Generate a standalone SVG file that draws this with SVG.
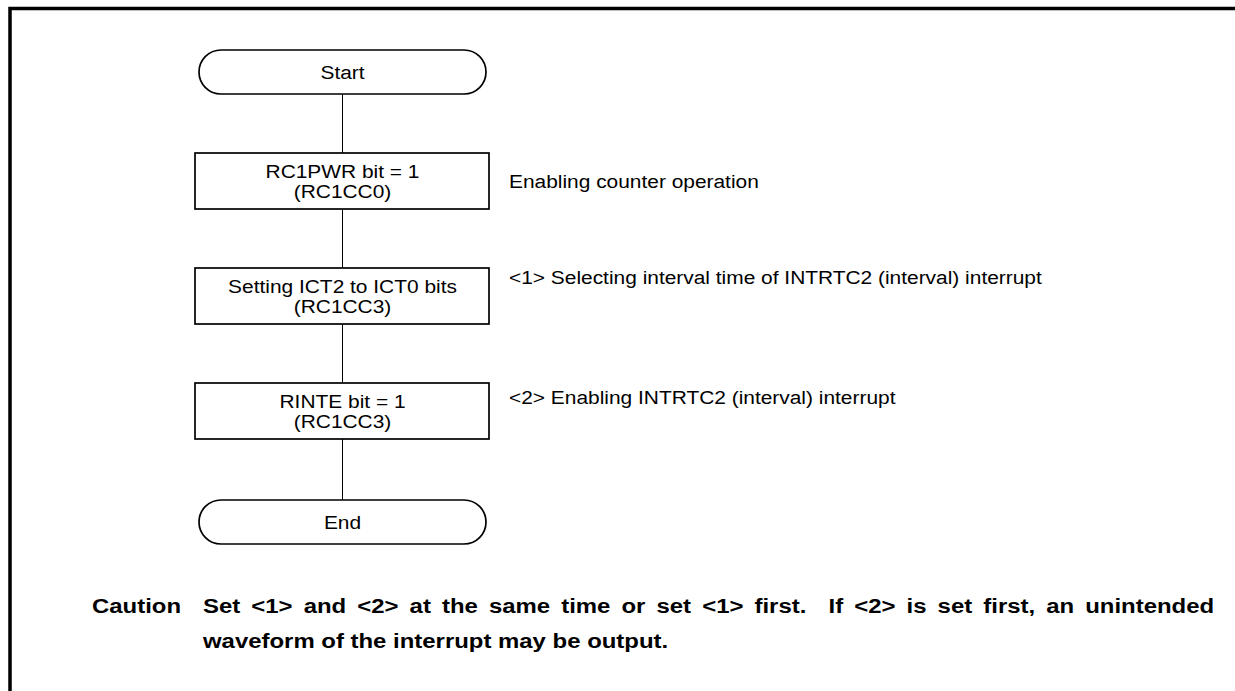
<svg xmlns="http://www.w3.org/2000/svg" width="1235" height="691" viewBox="0 0 1235 691">
<style>
.n{fill:#fff;stroke:#000;stroke-width:1.7}
.t{font-family:"Liberation Sans",Arial,sans-serif;font-size:17.8px;fill:#000}
.c{text-anchor:middle}
.b{font-family:"Liberation Sans",Arial,sans-serif;font-size:21px;font-weight:bold;fill:#000}
.w{stroke:#000;stroke-width:1;fill:none}
</style>
<rect width="1235" height="691" fill="#fff"/>
<g id="frame"><path d="M10 691 V8.5 H1235" fill="none" stroke="#000" stroke-width="3.5"/></g>
<g id="connectors">
<line class="w" x1="342.5" y1="94" x2="342.5" y2="500"/>
</g>
<g id="start"><rect class="n" x="199" y="50" width="287" height="44" rx="22"/><text class="t c" transform="translate(342.5,79) scale(1.175,1)">Start</text></g>
<g id="rc1pwr"><rect class="n" x="195" y="153" width="294" height="56"/><text class="t c" transform="translate(342.5,178) scale(1.175,1)">RC1PWR bit = 1</text><text class="t c" transform="translate(342.5,198) scale(1.175,1)">(RC1CC0)</text></g>
<g id="ict"><rect class="n" x="195" y="268" width="294" height="56"/><text class="t c" transform="translate(342.5,293) scale(1.175,1)">Setting ICT2 to ICT0 bits</text><text class="t c" transform="translate(342.5,313) scale(1.175,1)">(RC1CC3)</text></g>
<g id="rinte"><rect class="n" x="195" y="383" width="294" height="56"/><text class="t c" transform="translate(342.5,408) scale(1.175,1)">RINTE bit = 1</text><text class="t c" transform="translate(342.5,428) scale(1.175,1)">(RC1CC3)</text></g>
<g id="end"><rect class="n" x="199" y="500" width="287" height="44" rx="22"/><text class="t c" transform="translate(342.5,529) scale(1.175,1)">End</text></g>
<g id="labels">
<text class="t" transform="translate(509,188) scale(1.175,1)">Enabling counter operation</text>
<text class="t" transform="translate(509,284) scale(1.175,1)">&lt;1&gt; Selecting interval time of INTRTC2 (interval) interrupt</text>
<text class="t" transform="translate(509,404) scale(1.175,1)">&lt;2&gt; Enabling INTRTC2 (interval) interrupt</text>
</g>
<g id="caution">
<text class="b" transform="translate(92,613) scale(1.14,1)">Caution</text>
<text class="b" transform="translate(203,613) scale(1.14,1)" word-spacing="3.9" style="white-space:pre">Set &lt;1&gt; and &lt;2&gt; at the same time or set &lt;1&gt; first.  If &lt;2&gt; is set first, an unintended</text>
<text class="b" transform="translate(203,648) scale(1.14,1)">waveform of the interrupt may be output.</text>
</g>
</svg>
